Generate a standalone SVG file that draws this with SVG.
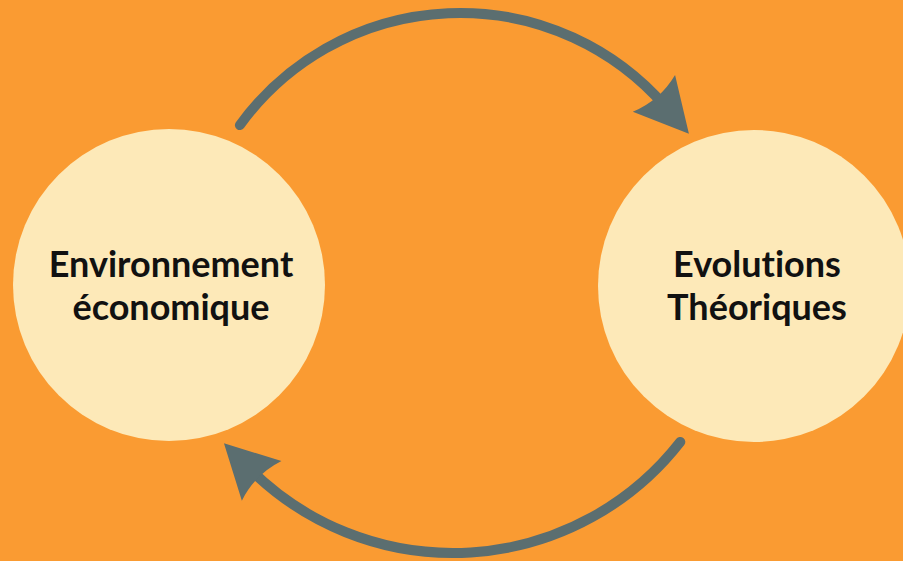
<svg xmlns="http://www.w3.org/2000/svg" width="903" height="561" viewBox="0 0 903 561">
  <style>
    .node circle { fill: #fde9b8; }
    .label { font-family: Lato, "Open Sans", "Liberation Sans", sans-serif; font-weight: bold; font-size: 36px; fill: #111111; text-anchor: middle; font-variant-ligatures: none; }
    .conn { fill: none; stroke: #5b6e70; stroke-width: 10; stroke-linecap: round; marker-end: url(#head); }
  </style>
  <defs>
    <marker id="head" markerUnits="userSpaceOnUse" orient="auto" refX="0" refY="0" markerWidth="80" markerHeight="80" viewBox="-20 -30 60 60" overflow="visible">
      <path d="M27,0 L-13,-21 Q-6,0 -13,21 Z" fill="#5b6e70"/>
    </marker>
  </defs>
  <rect x="0" y="0" width="903" height="561" fill="#fa9b32"/>
  <g id="connectors">
    <path class="conn" d="M239.9,125.1 A272,272 0 0 1 665.3,106.5"/>
    <path class="conn" d="M680.3,441.9 A288,288 0 0 1 249.4,468.6"/>
  </g>
  <g id="node-environnement" class="node">
    <circle cx="169" cy="285" r="156"/>
    <text class="label" x="171" y="277">Environnement</text>
    <text class="label" x="171" y="320">économique</text>
  </g>
  <g id="node-evolutions" class="node">
    <circle cx="754" cy="286" r="156"/>
    <text class="label" x="757" y="277">Evolutions</text>
    <text class="label" x="757" y="320">Théoriques</text>
  </g>
</svg>
